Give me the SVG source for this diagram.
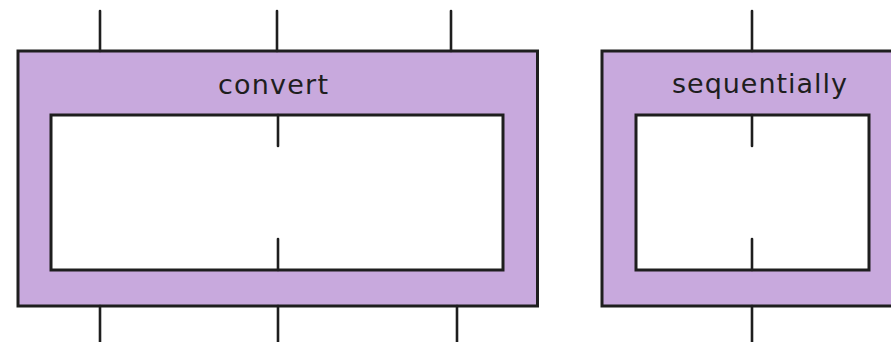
<svg xmlns="http://www.w3.org/2000/svg" width="891" height="342" viewBox="0 0 891 342">
<style>
.outer{fill:#c8a9dd;stroke:#1e1e1e;stroke-width:3;stroke-linejoin:miter}
.inner{fill:#ffffff;stroke:#1e1e1e;stroke-width:3}
.wire{stroke:#1e1e1e;stroke-width:2.6;stroke-linecap:round;fill:none}
.lbl{font-family:"DejaVu Sans","Noto Sans",sans-serif;font-size:27px;fill:#1e1e1e}
</style>
<rect x="0" y="0" width="891" height="342" fill="#ffffff"/>
<g id="convert">
<rect class="outer" x="18" y="51" width="519.5" height="255"/>
<rect class="inner" x="51" y="115" width="452" height="155"/>
<text class="lbl" x="218" y="94" textLength="110" lengthAdjust="spacing">convert</text>
</g>
<g id="sequentially">
<rect class="outer" x="602" y="51" width="300" height="255"/>
<rect class="inner" x="636" y="115" width="233" height="155"/>
<text class="lbl" x="672" y="93" textLength="175" lengthAdjust="spacing">sequentially</text>
</g>
<g id="connectors">
<line class="wire" x1="100" y1="11" x2="100" y2="51"/>
<line class="wire" x1="277" y1="11" x2="277" y2="51"/>
<line class="wire" x1="451" y1="11" x2="451" y2="51"/>
<line class="wire" x1="278" y1="115" x2="278" y2="146"/>
<line class="wire" x1="278" y1="239" x2="278" y2="270"/>
<line class="wire" x1="100" y1="306" x2="100" y2="344"/>
<line class="wire" x1="278" y1="306" x2="278" y2="344"/>
<line class="wire" x1="457" y1="306" x2="457" y2="344"/>
<line class="wire" x1="752" y1="11" x2="752" y2="51"/>
<line class="wire" x1="752" y1="115" x2="752" y2="146"/>
<line class="wire" x1="752" y1="239" x2="752" y2="270"/>
<line class="wire" x1="752" y1="306" x2="752" y2="344"/>
</g>
</svg>
